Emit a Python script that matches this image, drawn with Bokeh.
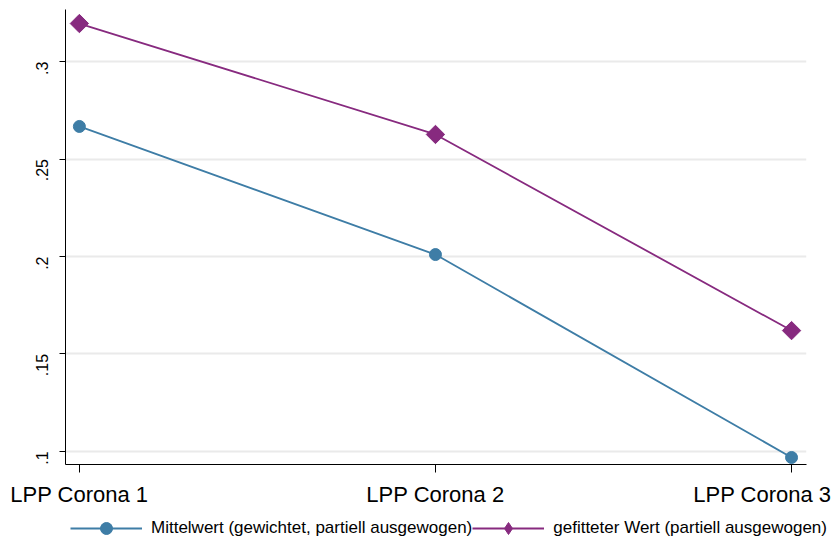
import math
from bokeh.plotting import figure
from bokeh.models import FixedTicker, Legend, LegendItem, Range1d
from bokeh.embed import file_html
from bokeh.resources import INLINE

categories = ["LPP Corona 1", "LPP Corona 2", "LPP Corona 3"]
mean_vals = [0.2667, 0.201, 0.0969]
fit_vals = [0.3195, 0.2626, 0.162]
y_ticks = [0.1, 0.15, 0.2, 0.25, 0.3]
y_tick_labels = [".1", ".15", ".2", ".25", ".3"]
series_names = ["Mittelwert (gewichtet, partiell ausgewogen)", "gefitteter Wert (partiell ausgewogen)"]

BLUE = "#3E7DA6"
PURPLE = "#872A7F"
FONT = "Liberation Sans"

xs = list(range(len(categories)))

p = figure(width=831, height=510, output_backend="svg", toolbar_location=None,
           x_range=Range1d(-0.039, 2.042), y_range=Range1d(0.0933, 0.3267),
           min_border_left=65, min_border_right=25, min_border_top=9, min_border_bottom=46)
p.outline_line_color = None
p.background_fill_color = "white"
p.border_fill_color = "white"

p.line(xs, mean_vals, line_color=BLUE, line_width=1.8)
p.scatter(xs, mean_vals, marker="circle", size=12, fill_color=BLUE, line_color=BLUE)
p.line(xs, fit_vals, line_color=PURPLE, line_width=1.8)
p.scatter(xs, fit_vals, marker="square", size=13, angle=math.pi / 4,
          fill_color=PURPLE, line_color=PURPLE)

# axes
p.xaxis.ticker = FixedTicker(ticks=xs)
p.xaxis.major_label_overrides = {i: c for i, c in enumerate(categories)}
p.xaxis.major_label_text_font = FONT
p.xaxis.major_label_text_font_size = "22px"
p.xaxis.major_label_text_color = "black"
p.xaxis.major_tick_out = 8
p.xaxis.major_tick_in = 0
p.xaxis.minor_tick_line_color = None
p.xaxis.major_label_standoff = 9
p.xaxis.axis_line_color = "black"
p.xaxis.major_tick_line_color = "black"

p.yaxis.ticker = FixedTicker(ticks=y_ticks)
p.yaxis.major_label_overrides = {t: l for t, l in zip(y_ticks, y_tick_labels)}
p.yaxis.major_label_orientation = math.pi / 2
p.yaxis.major_label_text_font = FONT
p.yaxis.major_label_text_font_size = "16px"
p.yaxis.major_label_text_color = "black"
p.yaxis.major_tick_out = 6
p.yaxis.major_tick_in = 0
p.yaxis.minor_tick_line_color = None
p.yaxis.major_label_standoff = 17
p.yaxis.axis_line_color = "black"
p.yaxis.major_tick_line_color = "black"

p.xgrid.grid_line_color = None
p.ygrid.ticker = FixedTicker(ticks=y_ticks)
p.ygrid.grid_line_color = "#EAEAEA"
p.ygrid.grid_line_width = 2

# legend strip below the chart (its renderers lie outside its view; only the legend shows)
pl = figure(width=831, height=33, output_backend="svg", toolbar_location=None,
            x_range=Range1d(100, 101), y_range=Range1d(100, 101),
            x_axis_location=None, y_axis_location=None, min_border=0)
pl.outline_line_color = None
pl.grid.visible = False
l1 = pl.line(xs, mean_vals, line_color=BLUE, line_width=1.8)
s1 = pl.scatter(xs, mean_vals, marker="circle", size=12, fill_color=BLUE, line_color=BLUE)
l2 = pl.line(xs, fit_vals, line_color=PURPLE, line_width=1.8)
s2 = pl.scatter(xs, fit_vals, marker="diamond", size=18, fill_color=PURPLE, line_color=PURPLE)

legend = Legend(items=[LegendItem(label=series_names[0], renderers=[l1, s1]),
                       LegendItem(label=series_names[1], renderers=[l2, s2])],
                orientation="horizontal", location=(70, 0),
                glyph_width=72, glyph_height=30, spacing=0, label_standoff=9,
                label_text_font=FONT, label_text_font_size="17px",
                label_text_color="black",
                border_line_color=None, background_fill_alpha=0,
                padding=0, margin=0)
pl.add_layout(legend, "center")

open("out.html", "w").write(file_html([p, pl], INLINE))
